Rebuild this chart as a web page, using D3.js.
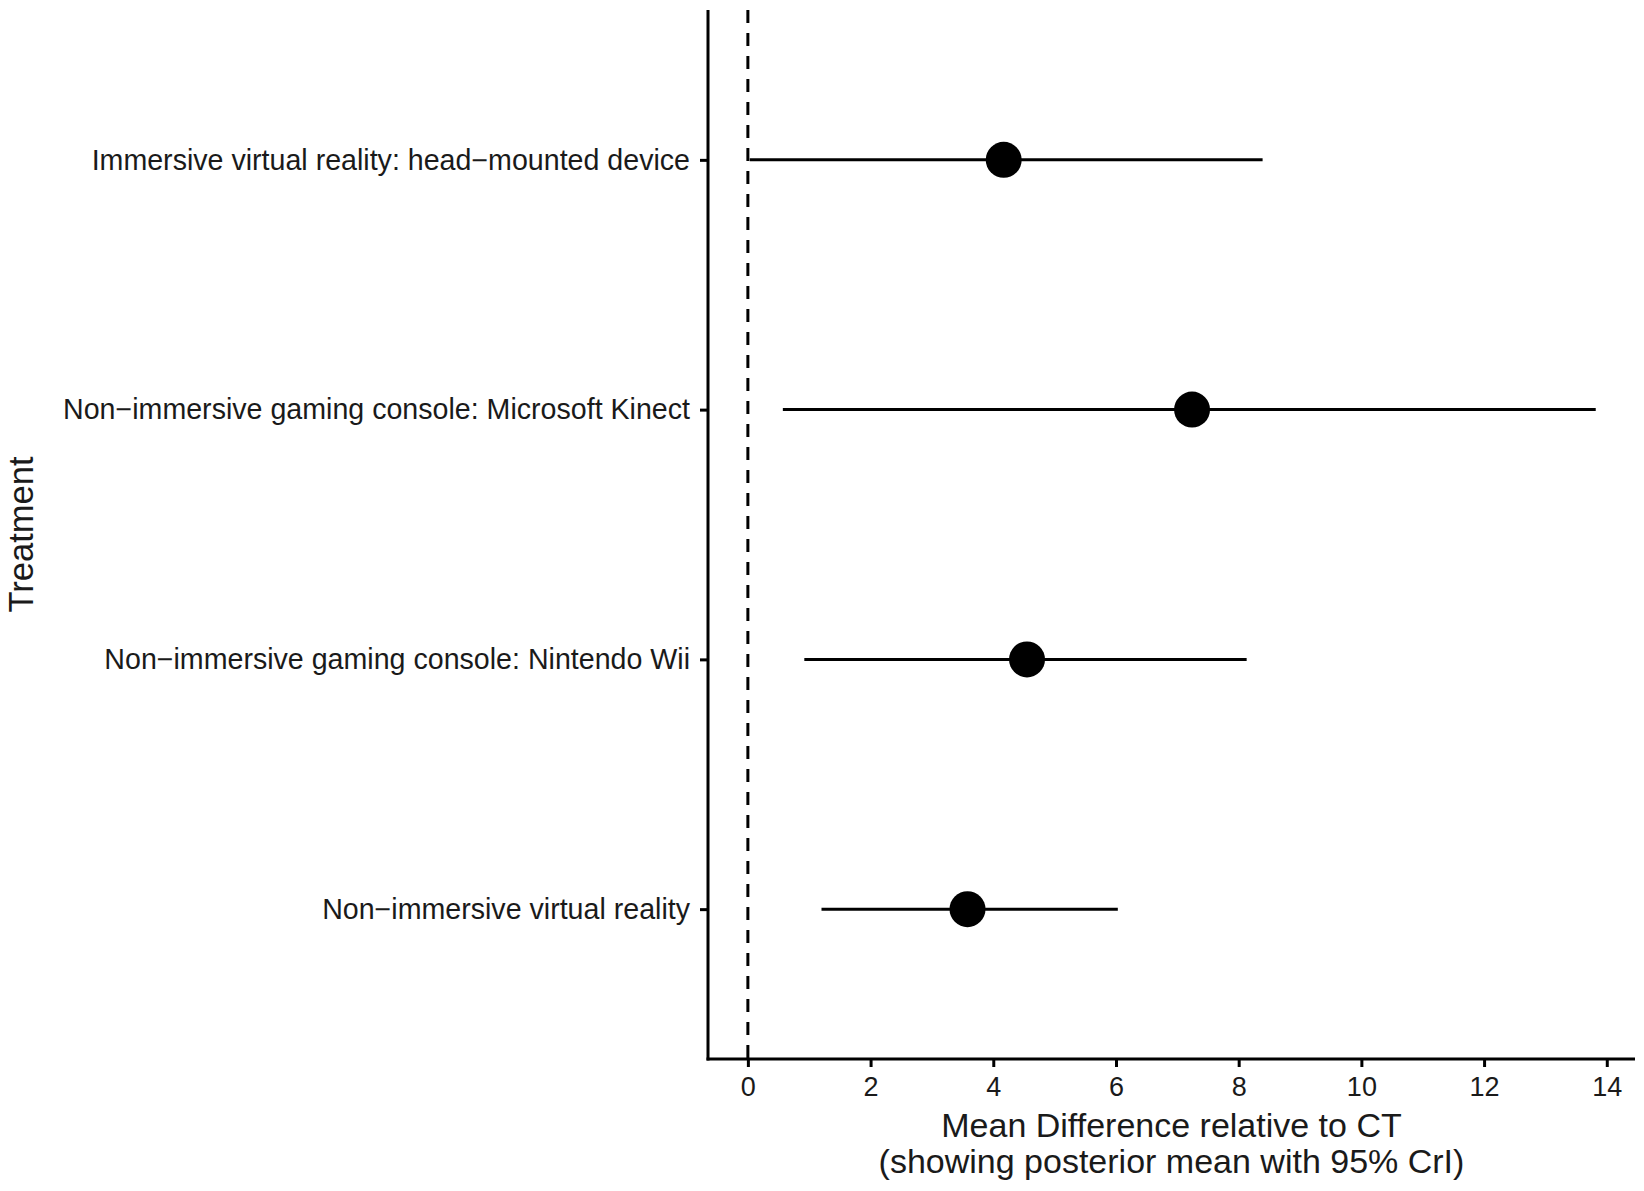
<!DOCTYPE html>
<html>
<head>
<meta charset="utf-8">
<script src="https://cdn.jsdelivr.net/npm/d3@7"></script>
<style>
  body { margin: 0; background: #fff; }
  text { font-family: "Liberation Sans", Arial, sans-serif; fill: #1a1a1a; }
</style>
</head>
<body>
<svg width="1644" height="1191"></svg>
<script>
var treatments = [
  "Immersive virtual reality: head\u2212mounted device",
  "Non\u2212immersive gaming console: Microsoft Kinect",
  "Non\u2212immersive gaming console: Nintendo Wii",
  "Non\u2212immersive virtual reality"
];
var means = [4.17, 7.24, 4.55, 3.58];
var lower = [0.03, 0.57, 0.92, 1.20];
var upper = [8.39, 13.82, 8.13, 6.03];
var xTicks = [0, 2, 4, 6, 8, 10, 12, 14];

var svg = d3.select("svg"),
    margin = {top: 10, left: 708, right: 9, bottom: 132},
    width = +svg.attr("width") - margin.left - margin.right,
    height = +svg.attr("height") - margin.top - margin.bottom;

var data = treatments.map(function(t, i) {
  return {name: t, mean: means[i], lo: lower[i], hi: upper[i]};
});

var x = d3.scaleLinear()
    .domain([-0.65, 14.46])
    .range([0, width]);

var y = d3.scalePoint()
    .domain(treatments)
    .range([0, height])
    .padding(0.6);

var g = svg.append("g")
    .attr("transform", "translate(" + margin.left + "," + margin.top + ")");

// reference line at zero
g.append("line")
    .attr("x1", x(0)).attr("x2", x(0))
    .attr("y1", 0).attr("y2", height)
    .attr("stroke", "#000")
    .attr("stroke-width", 3)
    .attr("stroke-dasharray", "13,10");

var row = g.selectAll(".row")
    .data(data)
  .enter().append("g")
    .attr("class", "row")
    .attr("transform", function(d) { return "translate(0," + y(d.name) + ")"; });

row.append("line")
    .attr("x1", function(d) { return x(d.lo); })
    .attr("x2", function(d) { return x(d.hi); })
    .attr("stroke", "#000")
    .attr("stroke-width", 3);

row.append("circle")
    .attr("cx", function(d) { return x(d.mean); })
    .attr("r", 18)
    .attr("fill", "#000");

// axes
var xAxis = g.append("g")
    .attr("transform", "translate(0," + height + ")")
    .call(d3.axisBottom(x).tickValues(xTicks).tickSize(8).tickPadding(10).tickSizeOuter(0));

var yAxis = g.append("g")
    .call(d3.axisLeft(y).tickSize(8).tickPadding(10).tickSizeOuter(0));

[xAxis, yAxis].forEach(function(a) {
  a.select(".domain").attr("stroke", "#000").attr("stroke-width", 3);
  a.selectAll(".tick line").attr("stroke", "#000").attr("stroke-width", 3);
  a.selectAll("text").attr("fill", "#1a1a1a").style("font-family", "'Liberation Sans', Arial, sans-serif");
});
xAxis.selectAll("text").attr("font-size", 27);
yAxis.selectAll("text").attr("font-size", 28.6);

// extend domain lines to meet at the corner
xAxis.select(".domain").attr("d", "M" + (-1.5) + ",0H" + width);
yAxis.select(".domain").attr("d", "M0,0V" + (height + 1.5));

// axis titles (two-line x title as one text)
var xTitle = svg.append("text")
    .attr("y", 1137)
    .attr("text-anchor", "middle")
    .attr("font-size", 34);
xTitle.append("tspan")
    .attr("x", margin.left + width / 2)
    .text("Mean Difference relative to CT");
xTitle.append("tspan")
    .attr("x", margin.left + width / 2)
    .attr("dy", 36)
    .text("(showing posterior mean with 95% CrI)");

svg.append("text")
    .attr("transform", "translate(33," + (margin.top + height / 2) + ") rotate(-90)")
    .attr("text-anchor", "middle")
    .attr("font-size", 34.5)
    .text("Treatment");
</script>
</body>
</html>
